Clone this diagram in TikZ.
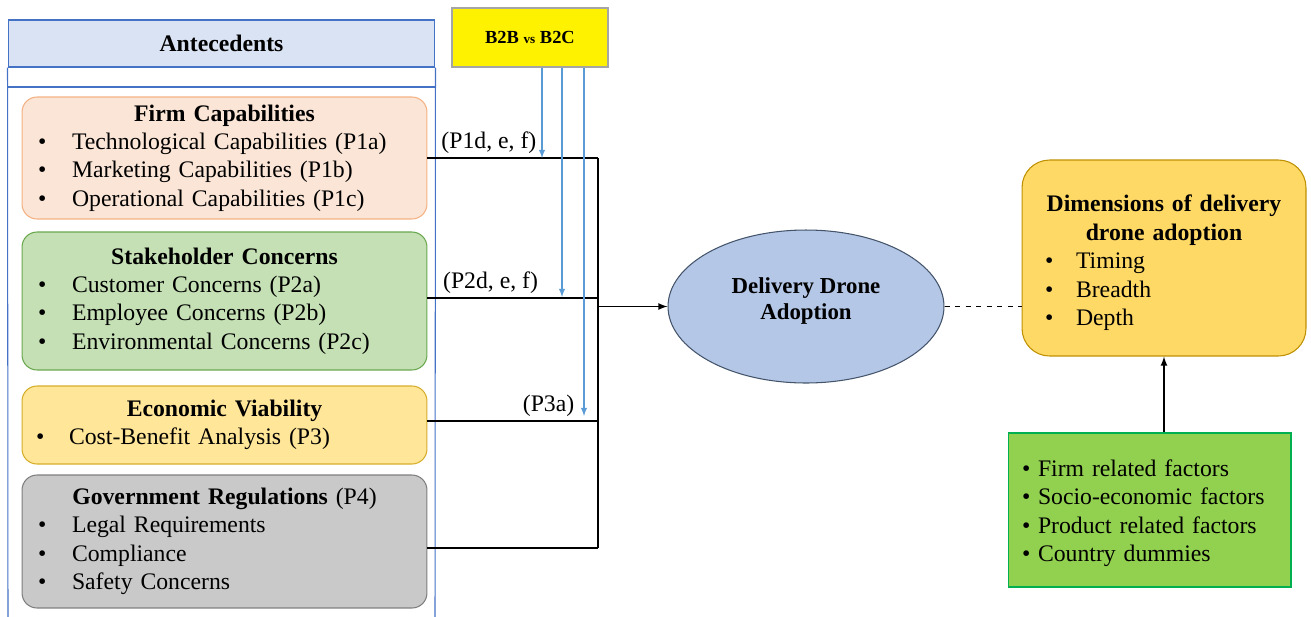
\documentclass[tikz,border=0pt]{standalone}
\usepackage{fontspec}
\setmainfont{Liberation Serif}
\usetikzlibrary{arrows,positioning,shapes.geometric}

\definecolor{frameblue}{HTML}{4472C4}
\definecolor{headblue}{HTML}{DAE3F3}
\definecolor{linkblue}{HTML}{5B9BD5}
\definecolor{firmfill}{HTML}{FBE5D6}
\definecolor{firmline}{HTML}{F4B183}
\definecolor{stakefill}{HTML}{C5E0B4}
\definecolor{stakeline}{HTML}{6AA84F}
\definecolor{econfill}{HTML}{FFE699}
\definecolor{econline}{HTML}{D6AE2A}
\definecolor{govfill}{HTML}{C9C9C9}
\definecolor{govline}{HTML}{7F7F7F}
\definecolor{adoptfill}{HTML}{B4C7E7}
\definecolor{adoptline}{HTML}{44546A}
\definecolor{dimfill}{HTML}{FFD966}
\definecolor{dimline}{HTML}{BF9000}
\definecolor{ctrlfill}{HTML}{92D050}
\definecolor{ctrlline}{HTML}{00B050}

\tikzstyle{every picture}+=[font=\fontsize{13.5}{16.2}\selectfont]
\tikzstyle{antbox}=[draw, rounded corners=0.3cm, line width=0.6pt, inner xsep=0.32cm, inner ysep=0pt,
	text width=7.46cm, minimum width=8.1cm, align=left]
\tikzstyle{link}=[line width=0.8pt]
\tikzstyle{modlink}=[draw=linkblue, line width=0.6pt, -latex]
\tikzstyle{plabel}=[above, inner sep=2pt]

\newcommand{\itm}[2][0.68cm]{\makebox[#1][l]{\textbullet}#2}
\newcommand{\ttl}[1]{\makebox[\hsize]{\textbf{#1}}}

\begin{document}
\begin{tikzpicture}
		[x=0.02cm, y=-0.02cm, inner sep=0pt]
		
		\useasboundingbox (0, 0) rectangle (1311, 616);
		
		% antecedents frame ---------------------------------------
		\node[draw=frameblue, fill=headblue, line width=0.6pt, minimum width=8.54cm, minimum height=0.94cm]
			(head) at (221.5, 43.5) {\textbf{Antecedents}};
		\draw[frameblue, line width=0.6pt] (head.south west) -- (8, 620);
		\draw[frameblue, line width=0.6pt] (head.south east) -- (435, 620);
		\draw[frameblue, line width=0.6pt] (8, 87) -- (435, 87);
		
		% firm capabilities ---------------------------------------
		\node[antbox, fill=firmfill, draw=firmline, minimum height=2.44cm] (firm) at (224.5, 158)
			{\ttl{Firm Capabilities}\\
			\itm{Technological Capabilities (P1a)}\\
			\itm{Marketing Capabilities (P1b)}\\
			\itm{Operational Capabilities (P1c)}};
		
		% stakeholder concerns ------------------------------------
		\node[antbox, fill=stakefill, draw=stakeline, minimum height=2.76cm] (stake) at (224.5, 301)
			{\ttl{Stakeholder Concerns}\\
			\itm{Customer Concerns (P2a)}\\
			\itm{Employee Concerns (P2b)}\\
			\itm{Environmental Concerns (P2c)}};
		
		% economic viability --------------------------------------
		\node[antbox, fill=econfill, draw=econline, minimum height=1.56cm, inner xsep=0.28cm, text width=7.54cm]
			(econ) at (224.5, 425)
			{\ttl{Economic Viability}\\
			\itm[0.66cm]{Cost-Benefit Analysis (P3)}};
		
		% government regulations ----------------------------------
		\node[antbox, fill=govfill, draw=govline, minimum height=2.66cm] (gov) at (224.5, 541.5)
			{\makebox[\hsize]{\textbf{Government Regulations} (P4)}\\
			\itm{Legal Requirements}\\
			\itm{Compliance}\\
			\itm{Safety Concerns}};
		
		% moderator -----------------------------------------------
		\node[draw=govline!70, fill=yellow, line width=0.6pt, minimum width=3.12cm, minimum height=1.18cm]
			(b2bc) at (530, 37.5)
			{\fontsize{10.5}{12}\selectfont\textbf{B2B {\fontsize{7.5}{8}\selectfont vs} B2C}};
		
		% outcome and dimensions ----------------------------------
		\node[ellipse, draw=adoptline, fill=adoptfill, line width=0.6pt, minimum width=5.52cm,
			minimum height=3.06cm, align=center, font=\fontsize{13}{15.3}\selectfont\bfseries]
			(adopt) at (806, 306.5) {Delivery Drone\\Adoption\rule[-9pt]{0pt}{0pt}};
		
		\node[draw=dimline, fill=dimfill, rounded corners=0.55cm, line width=0.6pt, minimum width=5.68cm,
			minimum height=3.92cm, inner xsep=0.46cm, text width=4.76cm, align=left]
			(dims) at (1164, 258)
			{\rule{0pt}{15pt}\ttl{Dimensions of delivery}\\
			\ttl{drone adoption}\\
			\itm[0.62cm]{Timing}\\
			\itm[0.62cm]{Breadth}\\
			\itm[0.62cm]{Depth}};
		
		\node[draw=ctrlline, fill=ctrlfill, line width=0.6pt, minimum width=5.66cm, minimum height=3.08cm,
			inner xsep=0.28cm, text width=5.1cm, align=left]
			(ctrl) at (1149.5, 510)
			{\rule{0pt}{13pt}\itm[0.32cm]{Firm related factors}\\
			\itm[0.32cm]{Socio-economic factors}\\
			\itm[0.32cm]{Product related factors}\\
			\itm[0.32cm]{Country dummies}};
		
		% bus into the outcome ------------------------------------
		\coordinate (b1) at (598, 158);
		\coordinate (b2) at (598, 298);
		\coordinate (b3) at (598, 421);
		\coordinate (b4) at (598, 548);
		
		\draw[link] (firm.east |- b1) -- node[plabel, pos=0.36] (l1) {(P1d, e, f)} (b1);
		\draw[link] (stake.east |- b2) -- node[plabel, pos=0.37] (l2) {(P2d, e, f)} (b2);
		\draw[link] (econ.east |- b3) -- node[plabel, pos=0.71] (l3) {(P3a)} (b3);
		\draw[link] (gov.east |- b4) -- (b4);
		\draw[link] (b1) -- (b4);
		\draw[link, -latex] (adopt.west -| b1) -- (adopt.west);
		
		% moderating arrows ---------------------------------------
		\coordinate (m1) at (542, 158);
		\coordinate (m2) at (562, 297);
		\coordinate (m3) at (584, 416);
		
		\draw[modlink] (b2bc.south -| m1) -- (m1);
		\draw[modlink] (b2bc.south -| m2) -- (m2);
		\draw[modlink] (b2bc.south -| m3) -- (m3);
		
		% dimensions and controls ---------------------------------
		\draw[dashed, line width=0.6pt] (adopt.east) -- (adopt.east -| dims.west);
		\draw[link, -latex] (ctrl.north -| dims.south) -- (dims.south);
		\end{tikzpicture}
\end{document}
